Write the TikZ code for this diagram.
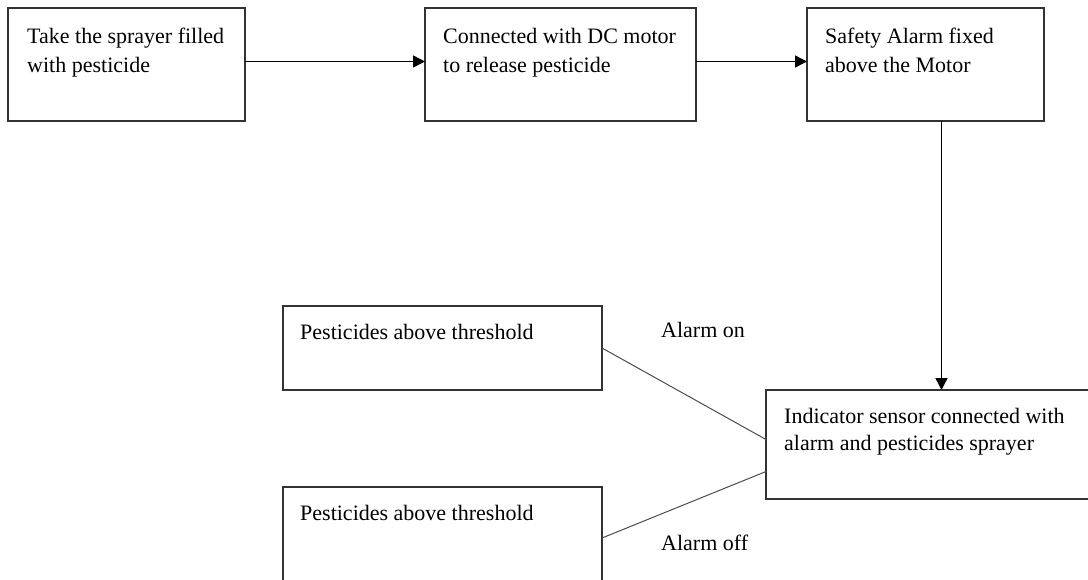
\documentclass[tikz,border=0pt]{standalone}
\usepackage{fontspec}
\setmainfont{Liberation Serif}
\usetikzlibrary{arrows.meta}
\definecolor{line1}{rgb}{0.2,0.2,0.2}
\definecolor{line2}{rgb}{0.3,0.3,0.3}

\begin{document}
\begin{tikzpicture}[x=1pt,y=-1pt,
  stepbox/.style={draw=line1, line width=1.3pt, anchor=north west, inner sep=0pt, outer sep=0pt},
  txt/.style={anchor=base west, inner sep=0pt, align=left, font=\fontsize{22}{29}\selectfont},
  arr/.style={line width=1.4pt, -{Triangle[length=12pt,width=12pt]}},
  wire/.style={draw=line2, line width=1pt}]
\useasboundingbox (0,0) rectangle (1088,579);
% top row
\node[stepbox, minimum width=237pt, minimum height=113pt] (take) at (8,8) {};
\node[stepbox, minimum width=271pt, minimum height=113pt] (motor) at (425,8) {};
\node[stepbox, minimum width=237pt, minimum height=113pt] (alarm) at (807,8) {};
\node[txt] (takeText) at ([shift={(19,64)}]take.north west) {Take the sprayer filled\\with pesticide};
\node[txt] (motorText) at ([shift={(18,64)}]motor.north west) {Connected with DC motor\\to release pesticide};
\node[txt] (alarmText) at ([shift={(18,64)}]alarm.north west) {Safety Alarm fixed\\above the Motor};
% bottom part
\node[stepbox, minimum width=340pt, minimum height=109pt] (sensor) at (766,390) {};
\node[stepbox, minimum width=319pt, minimum height=84pt] (above) at (283,306) {};
\node[stepbox, minimum width=319pt, minimum height=102pt] (below) at (283,487) {};
\node[txt, font=\fontsize{22}{27}\selectfont] (sensorText) at ([shift={(18,60)}]sensor.north west) {Indicator sensor connected with\\alarm and pesticides sprayer};
\node[txt] (aboveText) at ([shift={(17,33)}]above.north west) {Pesticides above threshold};
\node[txt] (belowText) at ([shift={(17,33)}]below.north west) {Pesticides above threshold};
\node[txt] (onText) at (661,337) {Alarm on};
\node[txt] (offText) at (661,550) {Alarm off};
% connectors
\draw[arr] ([yshift=3pt]take.east) -- ([yshift=3pt]motor.west);
\draw[arr] ([yshift=3pt]motor.east) -- ([yshift=3pt]alarm.west);
\draw[arr] ([xshift=16pt]alarm.south) -- ([xshift=16pt]alarm.south |- sensor.north);
\draw[wire] (above.east) -- ([yshift=5pt]sensor.west);
\draw[wire] (below.east) -- ([yshift=-27pt]sensor.west);
\end{tikzpicture}
\end{document}
